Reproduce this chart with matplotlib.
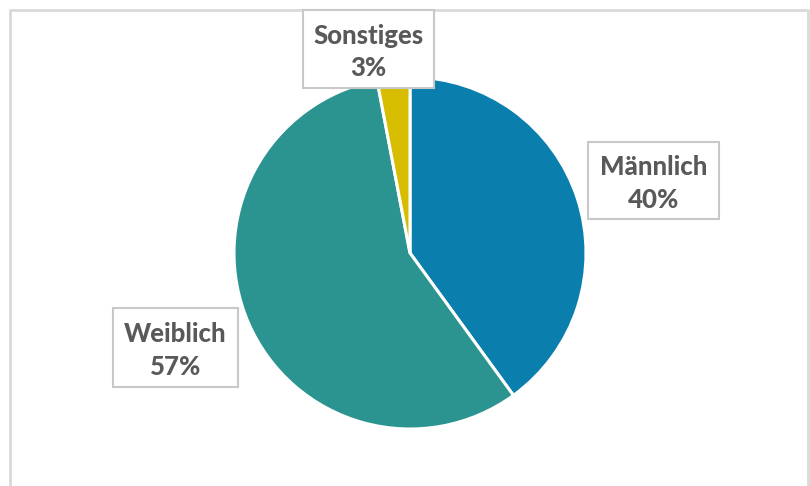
import matplotlib
matplotlib.use("Agg")
import matplotlib.pyplot as plt
from matplotlib.patches import Rectangle

categories = ["Männlich", "Weiblich", "Sonstiges"]
values = [40, 57, 3]
colors = ["#0a7fad", "#2c9490", "#d6bd00"]

# label box layout (pixel coords, top-left origin): x0, y0, x1, y1
boxes = [(588, 142, 719, 219), (113, 308, 238, 387), (303, 10, 434, 88)]

W, H = 810, 486
fig = plt.figure(figsize=(W / 100, H / 100), dpi=100)
ax = fig.add_axes([0, 0, 1, 1])

# chart border
ax.plot([10, 10, 808, 808], [-5, H - 10, H - 10, -5], color="#d9d9d9", lw=2, zorder=1)

ax.pie(values, colors=colors, startangle=90, counterclock=False,
       center=(410, H - 253), radius=176, frame=True,
       wedgeprops=dict(edgecolor="white", linewidth=2.2))
ax.set_xlim(0, W)
ax.set_ylim(0, H)
ax.axis("off")

for cat, val, (x0, y0, x1, y1) in zip(categories, values, boxes):
    ax.add_patch(Rectangle((x0, H - y1), x1 - x0, y1 - y0, facecolor="white",
                           edgecolor="#c8c8c8", lw=1.5, zorder=5))
    ax.text((x0 + x1) / 2, H - (y0 + y1) / 2 - 3, f"{cat}\n{val}%", ha="center", va="center",
            fontsize=18.5, fontweight="black", family=["Lato", "DejaVu Sans"], color="#595959",
            linespacing=1.42, zorder=6)

fig.savefig("out.png", dpi=100)
